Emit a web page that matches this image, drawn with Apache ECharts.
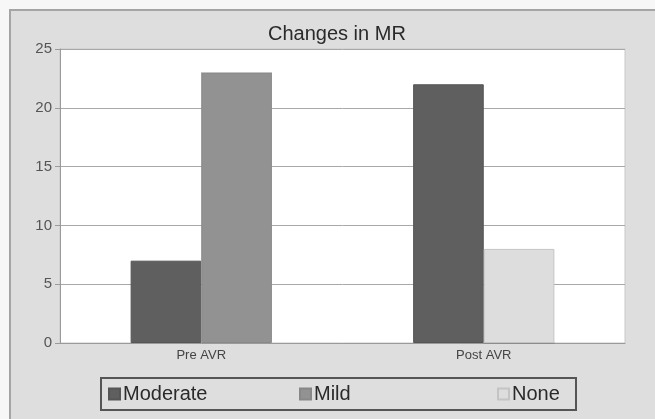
<!DOCTYPE html>
<html><head><meta charset="utf-8">
<script src="https://cdn.jsdelivr.net/npm/echarts@6/dist/echarts.min.js"></script>
<style>
html,body{margin:0;padding:0;background:#fff;}
#wrap{position:relative;width:655px;height:419px;background:#f7f7f7;overflow:hidden;}
#bg{position:absolute;left:9px;top:9px;width:650px;height:415px;background:#dedede;border-top:2px solid #a5a5a5;border-left:2px solid #a5a5a5;}
#chart{position:absolute;left:0;top:0;width:655px;height:419px;}
</style></head>
<body><div id="wrap"><div id="bg"></div><div id="chart"></div></div>
<script>
const categories = ['Pre AVR', 'Post AVR'];
const moderate = [7, 22];
const mild = [23, 0];
const none = [0, 8];
const yTicks = [0, 5, 10, 15, 20, 25];

const chart = echarts.init(document.getElementById('chart'));
const font = 'Liberation Sans, Arial, sans-serif';
const legendBase = {orient:'horizontal', top:384, icon:'rect', itemWidth:11, itemHeight:11, itemGap:0,
  textStyle:{fontSize:20, fontFamily:font, color:'#2a2a2a', padding:[0,0,0,-2]}, padding:0};
chart.setOption({
  animation:false,
  backgroundColor:'transparent',
  title:{text:'Changes in MR', left:263, top:19,
    textStyle:{fontSize:20, fontWeight:'normal', fontFamily:font, color:'#2a2a2a'}},
  grid:{left:60, right:30, top:49, bottom:76, show:true, backgroundColor:'#fff', borderColor:'#c8c8c8', borderWidth:1},
  legend:[
    Object.assign({}, legendBase, {left:108, data:['Moderate']}),
    Object.assign({}, legendBase, {left:299, data:['Mild']}),
    Object.assign({}, legendBase, {left:497, data:['None']})
  ],
  graphic:[{type:'rect', shape:{x:101, y:378, width:475, height:32},
    style:{fill:'transparent', stroke:'#555', lineWidth:2}, z:100}],
  xAxis:{type:'category', data:categories,
    axisLine:{lineStyle:{color:'#9a9a9a'}}, axisTick:{show:false},
    axisLabel:{fontSize:13, fontFamily:font, color:'#444', margin:6}},
  yAxis:{type:'value', min:0, max:25, interval:5,
    axisLine:{show:true, lineStyle:{color:'#9a9a9a'}},
    axisTick:{show:true, length:5, lineStyle:{color:'#9a9a9a'}},
    splitLine:{lineStyle:{color:'#a8a8a8'}},
    axisLabel:{fontSize:15, fontFamily:font, color:'#555', margin:8,
      formatter:v => yTicks.includes(v) ? String(v) : ''}},
  series:[
    {name:'Moderate', type:'bar', stack:'a', data:moderate, barGap:'0%', barCategoryGap:'50%',
      itemStyle:{color:'#5f5f5f', borderColor:'#555', borderWidth:1}},
    {name:'Mild', type:'bar', stack:'b', data:mild,
      itemStyle:{color:'#929292', borderColor:'#888', borderWidth:1}},
    {name:'None', type:'bar', stack:'b', data:none,
      itemStyle:{color:'#dddddd', borderColor:'#c4c4c4', borderWidth:1}}
  ]
});
</script></body></html>
